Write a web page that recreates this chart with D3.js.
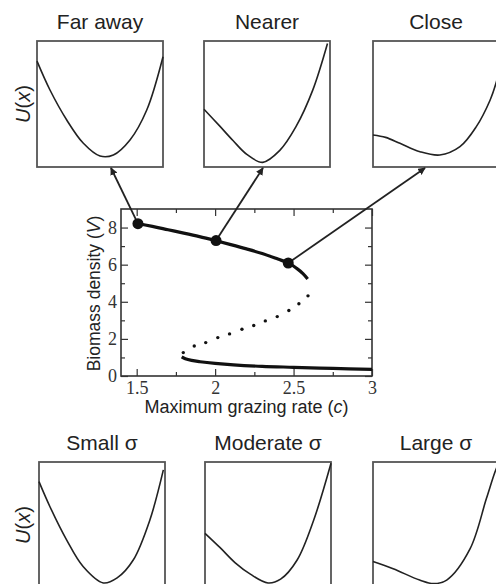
<!DOCTYPE html>
<html>
<head>
<meta charset="utf-8">
<script src="https://cdn.jsdelivr.net/npm/d3@7"></script>
<style>
  html, body { margin: 0; padding: 0; background: #fff; }
  svg { display: block; }
  .title { font-family: "Liberation Sans", Arial, sans-serif; fill: #222; }
  .lab { font-family: "Liberation Sans", Arial, sans-serif; fill: #222; }
</style>
</head>
<body>
<script>
// ---- data ----

// potential curves U(x), x and U both as fractions of the little box
const topTitles = ["Far away", "Nearer", "Close"];
const bottomTitles = ["Small \u03c3", "Moderate \u03c3", "Large \u03c3"];

const farAway = [[0, 0.84], [0.103, 0.611], [0.236, 0.373], [0.368, 0.188], [0.5, 0.087],
                 [0.606, 0.095], [0.738, 0.214], [0.871, 0.452], [1.0, 0.875]];
const nearer = [[0, 0.458], [0.12, 0.33], [0.23, 0.21], [0.34, 0.1], [0.466, 0.037],
                [0.6, 0.13], [0.73, 0.32], [0.863, 0.61], [0.98, 0.98]];
const close = [[0, 0.254], [0.1, 0.235], [0.214, 0.188], [0.373, 0.121], [0.53, 0.095],
               [0.69, 0.161], [0.82, 0.32], [0.929, 0.53], [0.976, 0.664], [1.0, 0.76]];

const smallSigma = [[0, 0.844], [0.087, 0.645], [0.22, 0.38], [0.35, 0.17], [0.51, 0.04],
                    [0.62, 0.08], [0.748, 0.222], [0.88, 0.54], [0.987, 0.937]];
const moderateSigma = [[0, 0.434], [0.12, 0.32], [0.24, 0.2], [0.36, 0.11], [0.5, 0.04],
                       [0.6, 0.07], [0.73, 0.22], [0.863, 0.54], [1.0, 0.99]];
const largeSigma = [[0, 0.21], [0.16, 0.153], [0.37, 0.063], [0.48, 0.035], [0.585, 0.063],
                    [0.77, 0.31], [0.9, 0.71], [0.968, 0.92], [1.0, 1.0]];

// bifurcation diagram: biomass V against grazing rate c
const upperBranch = [[1.49, 8.24], [1.6, 8.06], [1.7, 7.88], [1.8, 7.7], [1.9, 7.51], [2.0, 7.3],
                     [2.1, 7.08], [2.2, 6.85], [2.3, 6.6], [2.4, 6.3], [2.47, 6.08], [2.52, 5.8],
                     [2.56, 5.52], [2.59, 5.23]];
const unstableBranch = [[1.797, 1.26], [1.867, 1.62], [1.94, 1.8], [2.017, 2.07], [2.092, 2.27],
                        [2.171, 2.52], [2.246, 2.72], [2.32, 2.97], [2.396, 3.2], [2.47, 3.53],
                        [2.534, 3.89], [2.592, 4.32]];
const lowerBranch = [[1.787, 1.03], [1.81, 0.93], [1.85, 0.84], [1.904, 0.77], [2.0, 0.68],
                     [2.117, 0.6], [2.3, 0.52], [2.5, 0.47], [2.75, 0.41], [3.0, 0.36]];
const markedStates = [[1.508, 8.21], [2.006, 7.3], [2.466, 6.09]];

const xTicks = [1.5, 2, 2.5, 3];
const xMinorTicks = [1.75, 2.25, 2.75];
const yTicks = [0, 2, 4, 6, 8];
const yMinorTicks = [1, 3, 5, 7];

// ---- layout ----
const width = 496, height = 584;
const boxSize = 126;
const topRow = [{x: 37, y: 41, data: farAway, title: topTitles[0], arrowAt: 0.587},
                {x: 204, y: 41, data: nearer, title: topTitles[1], arrowAt: 0.468},
                {x: 373, y: 41, data: close, title: topTitles[2], arrowAt: 0.413}];
const bottomRow = [{x: 39, y: 462, data: smallSigma, title: bottomTitles[0]},
                   {x: 205, y: 462, data: moderateSigma, title: bottomTitles[1]},
                   {x: 373, y: 462, data: largeSigma, title: bottomTitles[2]}];

const svg = d3.select("body").append("svg")
    .attr("width", width)
    .attr("height", height);

svg.append("defs").append("marker")
    .attr("id", "head")
    .attr("viewBox", "0 0 10 10")
    .attr("refX", 9)
    .attr("refY", 5)
    .attr("markerWidth", 4.2)
    .attr("markerHeight", 4.2)
    .attr("markerUnits", "strokeWidth")
    .attr("orient", "auto")
    .append("path")
    .attr("d", "M0,0 L10,5 L0,10 z")
    .attr("fill", "#222");

function drawPanel(p) {
  const xs = d3.scaleLinear().domain([0, 1]).range([p.x, p.x + boxSize]);
  const ys = d3.scaleLinear().domain([0, 1]).range([p.y + boxSize, p.y]);
  p.xs = xs; p.ys = ys;

  svg.append("rect")
      .attr("x", p.x).attr("y", p.y)
      .attr("width", boxSize).attr("height", boxSize)
      .attr("fill", "none")
      .attr("stroke", "#555")
      .attr("stroke-width", 1.8);

  svg.append("path")
      .datum(p.data)
      .attr("fill", "none")
      .attr("stroke", "#222")
      .attr("stroke-width", 1.6)
      .attr("d", d3.line().x(d => xs(d[0])).y(d => ys(d[1])).curve(d3.curveCatmullRom.alpha(0.5)));

  svg.append("text")
      .attr("class", "title")
      .style("font-size", "21px")
      .attr("x", p.x + boxSize / 2)
      .attr("y", p.y - 12)
      .attr("text-anchor", "middle")
      .text(p.title);
}

topRow.forEach(drawPanel);
bottomRow.forEach(drawPanel);

// U(x) labels on the left of each row
[topRow[0], bottomRow[0]].forEach(p => {
  const t = svg.append("text")
      .attr("class", "title")
      .style("font-size", "20px")
      .attr("text-anchor", "middle")
      .attr("transform", `translate(30, ${p.y + boxSize / 2}) rotate(-90)`);
  t.append("tspan").attr("font-style", "italic").text("U");
  t.append("tspan").text("(");
  t.append("tspan").attr("font-style", "italic").text("x");
  t.append("tspan").text(")");
});

// ---- middle chart ----
const m = {left: 121, right: 372, top: 209, bottom: 376};
const x = d3.scaleLinear().domain([1.4, 3]).range([m.left, m.right]);
const y = d3.scaleLinear().domain([0, 9]).range([m.bottom, m.top]);

const frame = svg.append("g");
frame.append("g")
    .attr("transform", `translate(0, ${m.bottom})`)
    .call(d3.axisBottom(x).tickValues(xTicks).tickSize(-7).tickPadding(5).tickFormat(d3.format("")));
frame.append("g")
    .attr("transform", `translate(0, ${m.bottom})`)
    .call(d3.axisBottom(x).tickValues(xMinorTicks).tickSize(-4).tickFormat(""));
frame.append("g")
    .attr("transform", `translate(0, ${m.top})`)
    .call(d3.axisTop(x).tickValues(xTicks).tickSize(-7).tickFormat(""));
frame.append("g")
    .attr("transform", `translate(0, ${m.top})`)
    .call(d3.axisTop(x).tickValues(xMinorTicks).tickSize(-4).tickFormat(""));
frame.append("g")
    .attr("transform", `translate(${m.left}, 0)`)
    .call(d3.axisLeft(y).tickValues(yTicks).tickSize(-7).tickPadding(4));
frame.append("g")
    .attr("transform", `translate(${m.left}, 0)`)
    .call(d3.axisLeft(y).tickValues(yMinorTicks).tickSize(-4).tickFormat(""));
frame.append("g")
    .attr("transform", `translate(${m.right}, 0)`)
    .call(d3.axisRight(y).tickValues(yTicks).tickSize(-7).tickFormat(""));
frame.append("g")
    .attr("transform", `translate(${m.right}, 0)`)
    .call(d3.axisRight(y).tickValues(yMinorTicks).tickSize(-4).tickFormat(""));

frame.selectAll(".domain").remove();
frame.selectAll(".tick line").attr("stroke", "#333").attr("stroke-width", 1.2);
frame.selectAll(".tick text")
    .style("font-family", "'Liberation Serif', 'Times New Roman', serif")
    .style("font-size", "18px")
    .attr("fill", "#333");
frame.append("rect")
    .attr("x", m.left).attr("y", m.top)
    .attr("width", m.right - m.left).attr("height", m.bottom - m.top)
    .attr("fill", "none")
    .attr("stroke", "#333")
    .attr("stroke-width", 1.6);

const line = d3.line().x(d => x(d[0])).y(d => y(d[1])).curve(d3.curveCatmullRom.alpha(0.5));

svg.append("path")
    .datum(upperBranch)
    .attr("fill", "none")
    .attr("stroke", "#111")
    .attr("stroke-width", 3.2)
    .attr("d", line);

svg.append("path")
    .datum(lowerBranch)
    .attr("fill", "none")
    .attr("stroke", "#111")
    .attr("stroke-width", 3.2)
    .attr("d", line);

svg.selectAll("circle.unstable")
    .data(unstableBranch)
    .enter()
    .append("circle")
    .attr("class", "unstable")
    .attr("cx", d => x(d[0]))
    .attr("cy", d => y(d[1]))
    .attr("r", 1.7)
    .attr("fill", "#111");

// arrows from each marked state up to its potential panel
markedStates.forEach((d, i) => {
  const p = topRow[i];
  svg.append("line")
      .attr("x1", x(d[0]))
      .attr("y1", y(d[1]))
      .attr("x2", p.xs(p.arrowAt))
      .attr("y2", p.y + boxSize + 1)
      .attr("stroke", "#222")
      .attr("stroke-width", 1.8)
      .attr("marker-end", "url(#head)");
});

svg.selectAll("circle.state")
    .data(markedStates)
    .enter()
    .append("circle")
    .attr("class", "state")
    .attr("cx", d => x(d[0]))
    .attr("cy", d => y(d[1]))
    .attr("r", 5.5)
    .attr("fill", "#111");

// axis titles
const yl = svg.append("text")
    .attr("class", "lab")
    .style("font-size", "17.5px")
    .attr("text-anchor", "middle")
    .attr("transform", `translate(100, ${(m.top + m.bottom) / 2 + 1}) rotate(-90)`);
yl.append("tspan").text("Biomass density (");
yl.append("tspan").attr("font-style", "italic").text("V");
yl.append("tspan").text(")");

const xl = svg.append("text")
    .attr("class", "lab")
    .style("font-size", "18px")
    .attr("text-anchor", "middle")
    .attr("x", (m.left + m.right) / 2)
    .attr("y", 413);
xl.append("tspan").text("Maximum grazing rate (");
xl.append("tspan").attr("font-style", "italic").text("c");
xl.append("tspan").text(")");
</script>
</body>
</html>
